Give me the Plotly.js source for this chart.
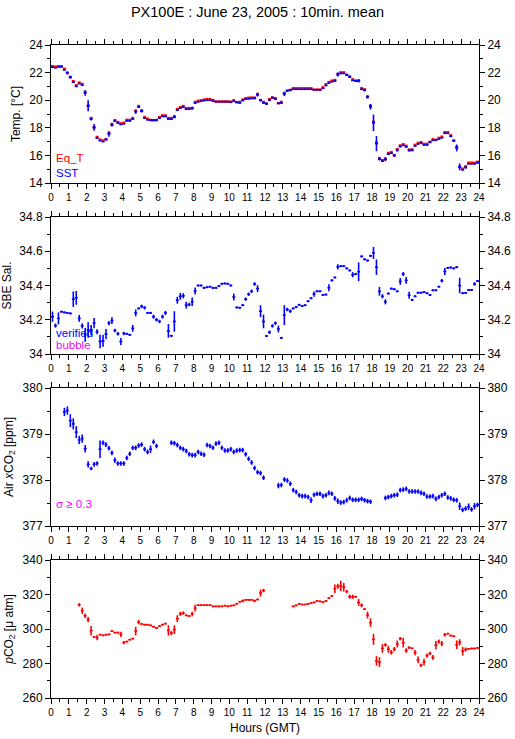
<!DOCTYPE html>
<html><head><meta charset="utf-8">
<script src="https://cdn.plot.ly/plotly-3.0.1.min.js"></script>
<style>html,body{margin:0;padding:0;background:#fff}#chart{width:515px;height:739px}</style>
</head><body><div id="chart"></div>
<script>
// 10-minute means, 144 slots over the day (slot centres in hours GMT)
const SLOT_HOURS = 1/6;
const N_SLOTS = 144;
const hours = Array.from({length: N_SLOTS}, (_, i) => (i + 0.5) * SLOT_HOURS);

const sst = [22.39,22.35,22.44,22.44,22.2,21.98,21.67,21.3,21.0,21.2,
21.1,20.52,19.6,18.63,18.03,17.26,17.07,17.0,17.16,17.55,
18.2,18.48,18.34,18.24,18.29,18.5,18.5,18.63,19.16,19.5,
19.23,18.7,18.58,18.56,18.55,18.56,18.7,18.82,18.82,18.63,
18.63,18.8,19.28,19.42,19.5,19.35,19.35,19.42,19.8,19.88,
19.92,19.97,20.0,20.0,19.93,19.9,19.9,19.9,19.9,19.9,
19.88,19.92,19.85,19.8,19.97,20.07,20.1,20.12,20.16,20.38,
20.0,19.8,19.75,20.0,20.19,20.07,19.78,19.8,20.45,20.69,
20.74,20.79,20.79,20.79,20.79,20.79,20.79,20.79,20.76,20.76,
20.76,20.86,21.07,21.24,21.34,21.39,21.87,21.94,21.94,21.84,
21.7,21.43,21.41,21.41,20.79,20.71,20.24,19.52,18.36,16.85,
15.73,15.58,15.73,16.1,16.16,16.0,16.37,16.64,16.73,16.62,
16.35,16.4,16.69,16.83,16.88,16.76,16.76,16.97,17.09,17.12,
17.19,17.28,17.6,17.6,17.38,17.07,16.54,15.17,14.96,15.13,
15.39,15.39,15.39,15.46];

const sstErr = [.04,.04,.06,.06,.04,.1,.1,.05,.04,.04,
.05,.2,.4,.1,.25,.04,.04,.04,.08,.2,
.1,.04,.04,.04,.04,.04,.06,.06,.15,.06,
.12,.05,.04,.04,.04,.04,.04,.04,.04,.05,
.05,.12,.06,.06,.04,.04,.04,.1,.06,.04,
.04,.04,.04,.04,.04,.04,.04,.04,.04,.04,
.04,.04,.04,.04,.04,.04,.04,.04,.1,.12,
.08,.06,.08,.06,.06,.06,.04,.06,.15,.04,
.04,.04,.04,.04,.04,.04,.04,.04,.04,.04,
.04,.05,.06,.04,.04,.04,.15,.04,.04,.06,
.08,.04,.04,.12,.04,.06,.12,.2,.6,.55,
.1,.06,.15,.06,.04,.08,.1,.06,.04,.06,
.06,.1,.06,.04,.04,.04,.06,.06,.04,.04,
.04,.06,.04,.04,.06,.06,.25,.25,.06,.1,
.04,.04,.04,.04];

const eqT = [22.46,22.42,22.44,22.44,22.27,21.98,21.67,21.37,21.07,21.27,
21.17,20.59,19.6,18.7,18.03,17.33,17.14,17.07,17.16,17.62,
18.27,18.55,18.41,18.31,18.36,18.57,18.57,18.7,19.23,19.57,
19.23,18.77,18.65,18.56,18.55,18.56,18.77,18.89,18.89,18.7,
18.7,18.8,19.35,19.49,19.57,19.42,19.42,19.42,19.87,19.95,
19.99,20.04,20.07,20.07,20.0,19.9,19.9,19.9,19.9,19.9,
19.88,19.99,19.85,19.87,20.04,20.14,20.17,20.19,20.16,20.45,
20.0,19.87,19.75,20.07,20.19,20.14,19.78,19.87,20.52,20.69,
20.74,20.86,20.86,20.86,20.86,20.86,20.86,20.86,20.76,20.76,
20.76,20.93,21.14,21.31,21.41,21.46,21.87,22.01,22.01,21.84,
21.7,21.5,21.41,21.41,20.86,20.78,20.24,19.59,18.43,16.92,
15.8,15.65,15.73,16.17,16.23,16.0,16.44,16.71,16.8,16.69,
16.42,16.4,16.76,16.9,16.95,16.83,16.83,16.97,17.16,17.12,
17.26,17.35,17.67,17.67,17.45,17.07,16.61,15.17,15.03,15.2,
15.46,15.46,15.46,15.53];

const sal = [34.218,34.166,34.208,34.247,34.243,34.24,34.237,34.32,34.328,34.208,
34.164,34.112,34.14,34.14,34.18,34.13,34.073,34.077,34.116,34.18,
34.195,34.137,34.118,34.073,34.12,34.118,34.112,34.15,34.24,34.266,
34.278,34.27,34.24,34.24,34.218,34.2,34.19,34.218,34.24,34.135,
34.106,34.19,34.314,34.337,34.34,34.285,34.289,34.305,34.368,34.4,
34.4,34.386,34.39,34.393,34.386,34.386,34.397,34.41,34.412,34.41,
34.4,34.333,34.272,34.27,34.285,34.32,34.349,34.366,34.409,34.382,
34.25,34.19,34.105,34.127,34.164,34.18,34.146,34.094,34.227,34.26,
34.25,34.266,34.274,34.287,34.28,34.285,34.308,34.326,34.35,34.366,
34.366,34.345,34.347,34.387,34.43,34.447,34.509,34.513,34.513,34.5,
34.488,34.463,34.467,34.48,34.57,34.553,34.546,34.573,34.59,34.507,
34.366,34.337,34.305,34.353,34.382,34.378,34.366,34.424,34.467,34.43,
34.343,34.316,34.337,34.358,34.358,34.362,34.355,34.345,34.372,34.372,
34.393,34.428,34.482,34.503,34.505,34.5,34.507,34.4,34.355,34.357,
34.374,34.374,34.409,34.426];

const salErr = [.03,.012,.035,.006,.006,.006,.006,.045,.04,.02,
.015,.04,.045,.03,.03,.015,.04,.035,.03,.012,
.02,.01,.01,.02,.01,.006,.006,.02,.02,.006,
.01,.01,.006,.006,.012,.01,.01,.012,.012,.04,
.006,.06,.02,.02,.015,.02,.01,.025,.02,.006,
.006,.006,.006,.006,.006,.006,.006,.006,.006,.006,
.006,.02,.006,.006,.006,.01,.01,.01,.01,.02,
.035,.04,.006,.01,.01,.01,.02,.006,.058,.01,
.01,.006,.006,.006,.006,.006,.006,.006,.015,.006,
.006,.006,.006,.02,.006,.006,.015,.006,.006,.006,
.006,.015,.006,.055,.006,.006,.006,.006,.035,.045,
.025,.012,.015,.006,.006,.006,.006,.02,.012,.02,
.02,.006,.006,.006,.006,.006,.006,.006,.006,.006,
.006,.01,.02,.006,.006,.006,.006,.045,.006,.006,
.006,.006,.01,.006];

const xco2 = [null,null,null,null,379.48,379.51,379.29,379.22,379.04,378.87,
378.9,378.68,378.34,378.25,378.34,378.36,378.67,378.81,378.77,378.69,
378.59,378.43,378.36,378.36,378.36,378.48,378.57,378.7,378.7,378.75,
378.77,378.67,378.61,378.67,378.83,378.74,null,null,null,null,
378.81,378.8,378.76,378.7,378.67,378.63,378.56,378.54,378.54,378.61,
378.57,378.55,378.76,378.74,378.7,378.79,378.81,378.7,378.64,378.64,
378.67,378.61,378.64,378.65,378.65,378.56,378.46,378.38,378.26,378.17,
378.15,378.05,null,null,null,null,377.88,377.89,378.01,377.99,
377.92,377.78,377.74,377.67,377.65,377.65,377.63,377.56,377.68,377.7,
377.7,377.65,377.67,377.72,377.7,377.6,377.54,377.51,377.52,377.56,
377.61,377.57,377.57,377.57,377.59,377.56,377.54,377.53,null,null,
null,null,377.61,377.63,377.65,377.67,377.68,377.78,377.79,377.81,
377.75,377.75,377.75,377.75,377.72,377.7,377.64,377.64,377.65,377.59,
377.63,377.67,377.7,377.62,377.6,377.57,377.56,377.43,377.35,377.38,
377.42,377.36,377.43,377.46];

const xco2Err = [0,0,0,0,.09,.09,.14,.12,.13,.09,
.09,.08,.07,.04,.05,.05,.19,.05,.05,.05,
.05,.06,.05,.05,.05,.05,.05,.05,.05,.05,
.05,.05,.05,.08,.05,.05,0,0,0,0,
.05,.05,.05,.05,.05,.05,.05,.05,.05,.05,
.05,.05,.05,.05,.05,.05,.05,.05,.05,.05,
.05,.05,.05,.05,.05,.05,.05,.05,.05,.05,
.05,.05,0,0,0,0,.06,.05,.05,.05,
.05,.05,.05,.05,.05,.05,.05,.06,.05,.05,
.05,.05,.05,.05,.05,.05,.06,.05,.05,.05,
.05,.05,.05,.05,.05,.05,.05,.05,0,0,
0,0,.05,.05,.05,.05,.05,.05,.05,.05,
.05,.05,.05,.05,.05,.05,.05,.05,.05,.05,
.05,.05,.05,.05,.05,.05,.05,.08,.05,.05,
.07,.05,.07,.05];

const pco2 = [null,null,null,null,null,null,null,null,null,314.0,
310.6,307.7,305.4,299.0,295.4,295.0,296.7,296.3,296.7,296.9,
298.8,297.9,297.9,296.9,292.1,292.7,293.8,294.4,298.8,304.0,
302.9,302.5,302.5,302.1,301.3,300.6,301.7,302.5,303.1,299.2,
297.7,299.6,306.0,308.8,309.2,307.9,307.5,308.7,312.1,313.8,
313.8,313.8,313.8,313.8,313.1,313.1,313.1,313.1,313.5,313.1,
313.5,313.7,314.6,315.8,316.3,316.9,316.9,316.9,316.3,317.1,
320.8,322.3,null,null,null,null,null,null,null,null,
null,313.1,313.7,314.6,314.2,314.2,314.6,315.0,315.4,316.3,
316.0,315.6,316.3,317.9,319.2,323.3,324.8,325.0,324.2,321.7,
318.7,318.7,318.7,315.4,313.7,311.5,308.1,303.7,294.0,281.5,
280.8,288.7,290.8,288.3,286.5,288.3,291.3,294.4,292.1,287.5,
289.2,288.8,286.3,282.1,279.0,280.8,284.6,285.8,283.5,290.6,
292.7,291.5,296.7,297.3,296.2,295.8,290.9,292.3,287.1,288.1,
288.5,288.7,288.7,289.0];

const pco2Err = [0,0,0,0,0,0,0,0,0,1.0,
1.8,1.3,1.5,2.8,.5,1.5,.5,.5,.5,.5,
.5,.5,.5,1.5,1.0,.5,.5,.5,2.5,1.3,
.5,.5,.5,.5,.5,.5,.5,.5,.5,3.0,
1.2,2.5,2.0,1.2,1.0,.5,.5,1.3,2.0,.5,
.5,.5,.5,.5,.5,.5,.5,.5,.5,.5,
.5,.5,.5,.5,.8,.5,.5,.5,.8,.5,
2.0,1.0,0,0,0,0,0,0,0,0,
0,.5,.5,.5,.5,.5,.5,.5,.5,.5,
.5,.5,.5,.5,.5,2.5,1.5,3.0,2.5,1.0,
1.2,1.2,.5,2.0,1.2,.5,2.0,2.5,3.2,2.8,
2.8,2.5,1.0,2.0,1.3,1.3,2.0,1.0,2.8,1.3,
.8,.5,1.5,2.0,1.0,2.0,1.2,1.0,1.5,2.5,
1.2,1.5,1.0,.5,.5,.5,2.5,1.8,2.5,1.2,
.5,.5,.5,.5];

const titleText = 'PX100E : June 23, 2005 : 10min. mean';
const xRange = [0,24];

const FONT = 'Liberation Sans, Arial, Helvetica, sans-serif';
const BLUE = '#0000ff', RED = '#ff0000', MAG = '#ff00ff';

function series(y, err, color, xa, ya, thick, showErrY) {
  return {
    x: hours, y: y, xaxis: xa, yaxis: ya, type: 'scatter', mode: 'markers',
    marker: {size: 2, color: color, opacity: 0}, hoverinfo: 'skip', showlegend: false,
    error_x: {type: 'constant', value: SLOT_HOURS / 2, width: 0, thickness: thick, color: color},
    error_y: showErrY ? {type: 'data', array: err, width: 0, thickness: thick, color: color} : {visible: false}
  };
}

const traces = [
  series(eqT, null, RED, 'x', 'y', 2.6, false),
  series(sst, sstErr, BLUE, 'x', 'y', 1.6, true),
  series(sal, salErr, BLUE, 'x2', 'y2', 1.6, true),
  series(xco2, xco2Err, BLUE, 'x3', 'y3', 1.6, true),
  series(pco2, pco2Err, RED, 'x4', 'y4', 1.6, true),
];
// anchors for right-hand mirror axes
['y5','y6','y7','y8'].forEach((ya, k) => traces.push({x: [null], y: [null], xaxis: 'x' + (k ? k + 1 : ''), yaxis: ya, type: 'scatter', mode: 'markers', marker: {opacity: 0}, showlegend: false, hoverinfo: 'skip'}));

function xax(anchor, title) {
  const a = {
    anchor: anchor, domain: [0, 1], range: xRange, tickmode: 'linear', tick0: 0, dtick: 1,
    ticks: 'outside', ticklen: 5, tickwidth: 1, tickcolor: '#000',
    showline: true, linecolor: '#000', linewidth: 1, mirror: 'ticks',
    showgrid: false, zeroline: false, fixedrange: true,
    tickfont: {family: FONT, size: 10, color: '#000'},
    minor: {dtick: 0.5, tick0: 0, ticks: 'outside', ticklen: 3, tickcolor: '#000', tickwidth: 1, showgrid: false}
  };
  if (title) a.title = {text: title, font: {family: FONT, size: 12, color: '#000'}, standoff: 6};
  return a;
}
function yax(domain, range, dtick, title, anchor) {
  return {
    anchor: anchor, domain: domain, range: range, tickmode: 'linear', tick0: range[0], dtick: dtick,
    ticks: 'outside', ticklen: 5, tickwidth: 1, tickcolor: '#000',
    showline: true, linecolor: '#000', linewidth: 1, mirror: true,
    showgrid: false, zeroline: false, fixedrange: true,
    tickfont: {family: FONT, size: 12, color: '#000'},
    minor: {dtick: dtick / 2, ticks: 'outside', ticklen: 3, tickcolor: '#000', tickwidth: 1, showgrid: false},
    title: {text: title, font: {family: FONT, size: 12, color: '#000'}, standoff: 6}
  };
}
function yaxR(over, anchor, range, dtick) {
  return {
    overlaying: over, side: 'right', anchor: anchor, range: range, tickmode: 'linear', tick0: range[0], dtick: dtick,
    ticks: 'outside', ticklen: 5, tickwidth: 1, tickcolor: '#000',
    showline: false, showgrid: false, zeroline: false, fixedrange: true,
    tickfont: {family: FONT, size: 12, color: '#000'},
    minor: {dtick: dtick / 2, ticks: 'outside', ticklen: 3, tickcolor: '#000', tickwidth: 1, showgrid: false}
  };
}

const H = 653;
const d1 = [515 / H, 1], d2 = [344 / H, 481 / H], d3 = [172 / H, 310 / H], d4 = [0, 138 / H];
const r1 = [14, 24], r2 = [34, 34.8], r3 = [377, 380], r4 = [260, 340];

const layout = {
  width: 515, height: 739,
  margin: {l: 51, r: 36, t: 45, b: 41},
  paper_bgcolor: '#fff', plot_bgcolor: 'rgba(0,0,0,0)',
  font: {family: FONT, color: '#000'},
  title: {text: titleText, font: {family: FONT, size: 14.5, color: '#000'}, x: 0.5, xref: 'container', xanchor: 'center', y: 1 - 12 / 739, yref: 'container', yanchor: 'middle'},
  xaxis: xax('y'), xaxis2: xax('y2'), xaxis3: xax('y3'), xaxis4: xax('y4', 'Hours (GMT)'),
  yaxis: yax(d1, r1, 2, 'Temp. [°C]', 'x'),
  yaxis2: yax(d2, r2, 0.2, 'SBE Sal.', 'x2'),
  yaxis3: yax(d3, r3, 1, 'Air <i>x</i>CO<sub>2</sub> [ppm]', 'x3'),
  yaxis4: yax(d4, r4, 20, '<i>p</i>CO<sub>2</sub> [μ atm]', 'x4'),
  yaxis5: yaxR('y', 'x', r1, 2),
  yaxis6: yaxR('y2', 'x2', r2, 0.2),
  yaxis7: yaxR('y3', 'x3', r3, 1),
  yaxis8: yaxR('y4', 'x4', r4, 20),
  annotations: [
    {xref: 'paper', yref: 'y domain', x: 0.008, y: 0.183, xanchor: 'left', yanchor: 'middle', text: 'Eq_T', showarrow: false, font: {family: FONT, size: 11.5, color: RED}},
    {xref: 'paper', yref: 'y domain', x: 0.008, y: 0.075, xanchor: 'left', yanchor: 'middle', text: 'SST', showarrow: false, font: {family: FONT, size: 11.5, color: BLUE}},
    {xref: 'paper', yref: 'y2 domain', x: 0.008, y: 0.155, xanchor: 'left', yanchor: 'middle', text: 'verified', showarrow: false, font: {family: FONT, size: 11.5, color: BLUE}},
    {xref: 'paper', yref: 'y2 domain', x: 0.008, y: 0.066, xanchor: 'left', yanchor: 'middle', text: 'bubble', showarrow: false, font: {family: FONT, size: 11.5, color: MAG}},
    {xref: 'paper', yref: 'y3 domain', x: 0.008, y: 0.157, xanchor: 'left', yanchor: 'middle', text: 'σ ≥ 0.3', showarrow: false, font: {family: FONT, size: 11.5, color: MAG}}
  ]
};

Plotly.newPlot('chart', traces, layout, {staticPlot: true, displayModeBar: false});
</script>
</body></html>
